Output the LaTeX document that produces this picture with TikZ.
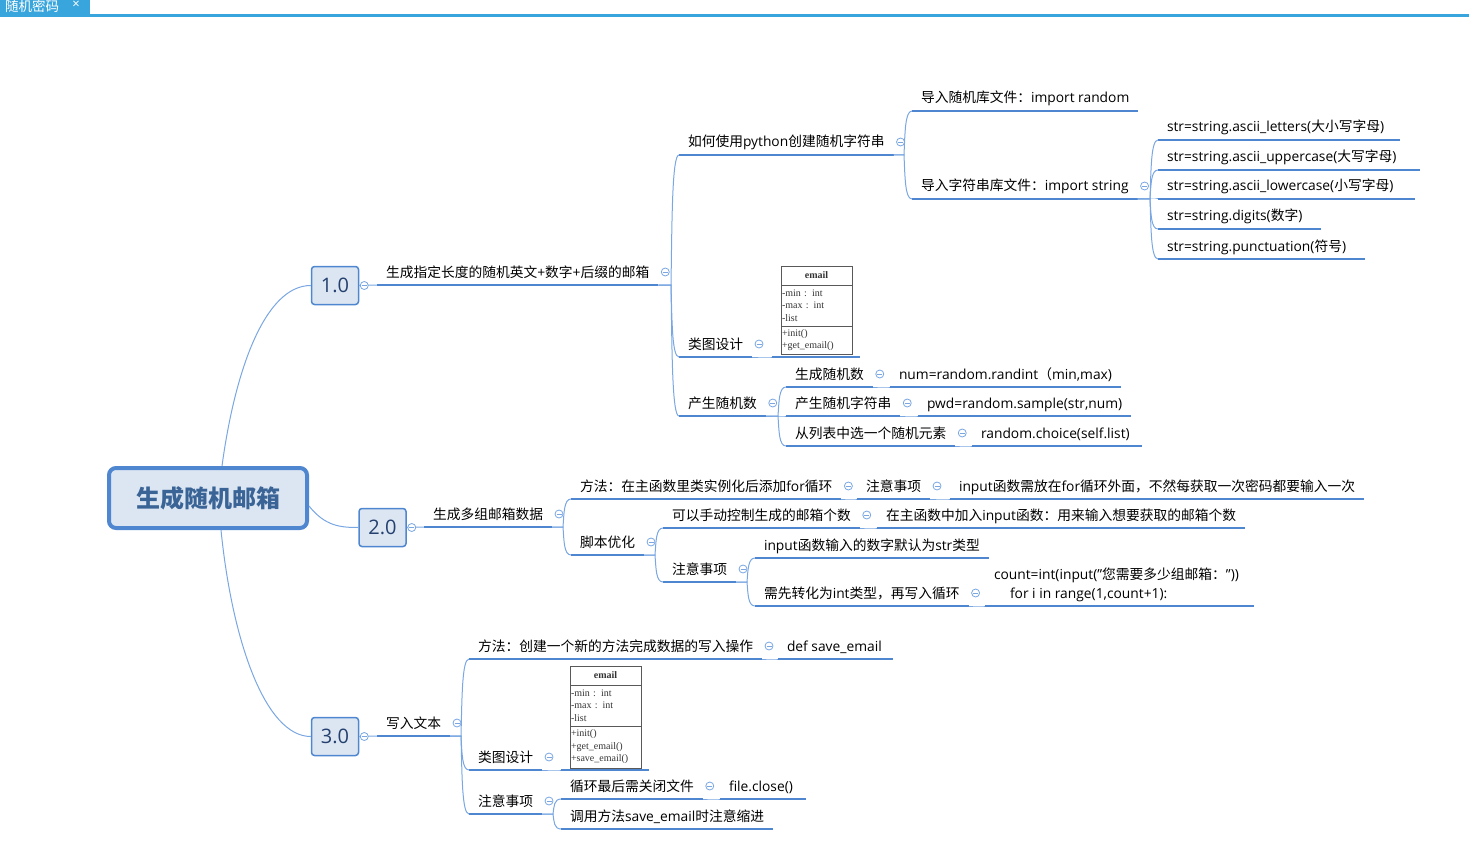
\documentclass[tikz,border=0pt]{standalone}
\usepackage{fontspec}
\setmainfont{Open Sans}
\newfontfamily\cjk{Noto Sans CJK SC}
\newfontfamily\umlfont{Liberation Serif}
\usetikzlibrary{calc,positioning}
\newcommand{\zh}[1]{{\fontsize{13.75}{19}\selectfont\cjk #1}}
\definecolor{linkblue}{HTML}{4F86D0}
\definecolor{tieblue}{HTML}{7AA7E2}
\definecolor{boxfill}{HTML}{DCE6F3}
\definecolor{tabblue}{HTML}{38A5DC}
\definecolor{roottext}{HTML}{3A6496}
\definecolor{versiontext}{HTML}{24406E}
\tikzset{
  topic/.style={anchor=south west, inner xsep=9pt, inner ysep=5pt, outer sep=0pt, text height=10pt, text depth=3pt,
    font=\fontsize{13.8}{19}\selectfont, align=left,
    append after command={(\tikzlastnode.south west) edge[uline] (\tikzlastnode.south east)}},
  uline/.style={linkblue, line width=2.3pt},
  tie/.style={tieblue, line width=1pt},
  branch/.style={to path={let \p1=(\tikztostart),\p2=(\tikztotarget) in -- (\x2-8pt,\y1)
    .. controls (\x2-7pt,{0.5*\y1+0.5*\y2}) and (\x2-7pt,\y2) .. (\p2)}},
  fold/.style={circle, draw=tieblue, fill=white, line width=0.8pt, minimum size=8pt, inner sep=0pt,
    path picture={\draw[tieblue, line width=0.8pt] ([xshift=1.5pt]path picture bounding box.west) -- ([xshift=-1.5pt]path picture bounding box.east);}},
  version/.style={draw=linkblue, fill=boxfill, line width=1.5pt, rounded corners=3pt, minimum width=47pt, minimum height=38pt,
    inner sep=0pt, text=versiontext, font=\fontsize{20}{24}\selectfont},
  cell/.style={draw=black!65, line width=1pt, minimum width=71pt, text width=69pt, inner xsep=1pt, inner ysep=0pt, outer sep=0pt,
    text=black!80, font=\fontsize{10}{12.5}\selectfont\umlfont, align=left},
}
\begin{document}
\begin{tikzpicture}[x=1pt,y=-1pt]
    \useasboundingbox (0,0) rectangle (1469,845);

    % tab strip
    \fill[tabblue] (0,0) rectangle (90,14);
    \fill[tabblue] (0,14) rectangle (1469,17);
    \node[text=white, inner sep=0pt, anchor=west] (tab) at (5,6.5) {\fontsize{13.5}{14}\selectfont\cjk 随机密码};
    \node[text=white, inner sep=0pt] (tabx) at (76,5) {\fontsize{13}{13}\selectfont ×};

    % root and versions
    \node[draw=linkblue, fill=boxfill, line width=4pt, rounded corners=7pt, minimum width=198pt, minimum height=60pt, inner sep=0pt,
      text=roottext] (root) at (208,498) {\fontsize{24}{28}\selectfont\cjk\bfseries 生成随机邮箱};
    \node[version] (v1) at (335,285.5) {1.0};
    \node[version] (v2) at (382.5,527.5) {2.0};
    \node[version] (v3) at (335,736.5) {3.0};

    % version 1.0
    \node[topic] (r1) at (377,285) {\zh{生成指定长度的随机英文}+\zh{数字}+\zh{后缀的邮箱}};
    \node[topic] (p1) at (679,155) {\zh{如何使用}python\zh{创建随机字符串}};
    \node[topic] (q1) at (912,111) {\zh{导入随机库文件：}import random};
    \node[topic] (q2) at (912,199) {\zh{导入字符串库文件：}import string};
    \node[topic] (s1) at (1158,140) {str=string.ascii\_letters(\zh{大小写字母})\hspace*{7pt}};
    \node[topic] (s2) at (1158,170) {str=string.ascii\_uppercase(\zh{大写字母})\hspace*{15pt}};
    \node[topic] (s3) at (1158,199) {str=string.ascii\_lowercase(\zh{小写字母})\hspace*{13pt}};
    \node[topic] (s4) at (1158,229) {str=string.digits(\zh{数字})\hspace*{10pt}};
    \node[topic] (s5) at (1158,259) {str=string.punctuation(\zh{符号})\hspace*{10pt}};
    \node[topic] (p2) at (679,357) {\zh{类图设计}};
    \node[topic, minimum width=88pt] (cd1) at (772,357) {};
    \node[topic] (p3) at (679,416) {\zh{产生随机数}};
    \node[topic] (g1) at (786,387) {\zh{生成随机数}};
    \node[topic] (h1) at (890,387) {num=random.randint\zh{（}min,max)};
    \node[topic] (g2) at (786,416) {\zh{产生随机字符串}};
    \node[topic] (h2) at (918,416) {pwd=random.sample(str,num)};
    \node[topic] (g3) at (786,446) {\zh{从列表中选一个随机元素}};
    \node[topic] (h3) at (972,446) {random.choice(self.list)\hspace*{3pt}};

    \node[cell, anchor=north west, minimum height=19pt, align=center] (head1) at (781,266) {\bfseries email};
    \node[cell, below=0pt of head1, minimum height=41pt] (attr1) {-min : int\\-max : int\\-list};
    \node[cell, below=0pt of attr1, minimum height=28pt] (meth1) {+init()\\+get\_email()};

    % version 2.0
    \node[topic] (r2) at (424,527) {\zh{生成多组邮箱数据}};
    \node[topic] (m1) at (571,499) {\zh{方法：在主函数里类实例化后添加}for\zh{循环}};
    \node[topic] (n1) at (857,499) {\zh{注意事项}};
    \node[topic] (n2) at (950,499) {input\zh{函数需放在}for\zh{循环外面，不然每获取一次密码都要输入一次}};
    \node[topic] (m2) at (571,555) {\zh{脚本优化}};
    \node[topic] (k1) at (663,528) {\zh{可以手动控制生成的邮箱个数}};
    \node[topic] (l1) at (877,528) {\zh{在主函数中加入}input\zh{函数：用来输入想要获取的邮箱个数}};
    \node[topic] (k2) at (663,582) {\zh{注意事项}};
    \node[topic] (x1) at (755,558) {input\zh{函数输入的数字默认为}str\zh{类型}};
    \node[topic] (x2) at (755,606) {\zh{需先转化为}int\zh{类型，再写入循环}};
    \node[topic] (y2) at (985,606) {count=int(input("\zh{您需要多少组邮箱：}"))\hspace*{6pt}\\\hspace*{16pt}for i in range(1,count+1):};

    % version 3.0
    \node[topic] (r3) at (377,736) {\zh{写入文本}};
    \node[topic] (w1) at (469,659) {\zh{方法：创建一个新的方法完成数据的写入操作}};
    \node[topic] (z1) at (778,659) {def save\_email\hspace*{2pt}};
    \node[topic] (w2) at (469,770) {\zh{类图设计}};
    \node[topic, minimum width=88pt] (cd2) at (561,770) {};
    \node[topic] (w3) at (469,814) {\zh{注意事项}};
    \node[topic] (u1) at (561,799) {\zh{循环最后需关闭文件}};
    \node[topic] (u3) at (720,799) {file.close()\hspace*{4pt}};
    \node[topic] (u2) at (561,829) {\zh{调用方法}save\_email\zh{时注意缩进}};

    \node[cell, anchor=north west, minimum height=19pt, align=center] (head2) at (570,666) {\bfseries email};
    \node[cell, below=0pt of head2, minimum height=41pt] (attr2) {-min : int\\-max : int\\-list};
    \node[cell, below=0pt of attr2, minimum height=42pt] (meth2) {+init()\\+get\_email()\\+save\_email()};

    % connectors
    \draw[tie] ([xshift=14pt]root.north) .. controls (235,370) and (265,285.5) .. (v1.west);
    \draw[tie] ([yshift=-8pt]root.east) .. controls (325,526) and (340,527.5) .. (v2.west);
    \draw[tie] ([xshift=13pt]root.south) .. controls (232,640) and (265,736.5) .. (v3.west);
    \foreach \a/\b in {v1/r1,v2/r2,v3/r3}
        \draw[tie] (\a.east) -- (\b.south west);
    \foreach \a/\b in {r1/p1,r1/p2,r1/p3,p1/q1,p1/q2,q2/s1,q2/s2,q2/s3,q2/s4,q2/s5,p2/cd1,p3/g1,p3/g2,p3/g3,g1/h1,g2/h2,g3/h3,
        r2/m1,r2/m2,m1/n1,n1/n2,m2/k1,m2/k2,k1/l1,k2/x1,k2/x2,x2/y2,
        r3/w1,r3/w2,r3/w3,w1/z1,w2/cd2,w3/u1,w3/u2,u1/u3}
        \draw[tie] (\a.south east) to[branch] (\b.south west);

    % fold marks
    \foreach \t in {v1,v2,v3}
        \node[fold] (f\t) at ([xshift=5pt]\t.east) {};
    \foreach \t in {r1,p1,q2,p2,p3,g1,g2,g3,r2,m1,n1,m2,k1,k2,x2,r3,w1,w2,w3,u1}
        \node[fold] (f\t) at ([xshift=7pt,yshift=13pt]\t.south east) {};
\end{tikzpicture}
\end{document}
